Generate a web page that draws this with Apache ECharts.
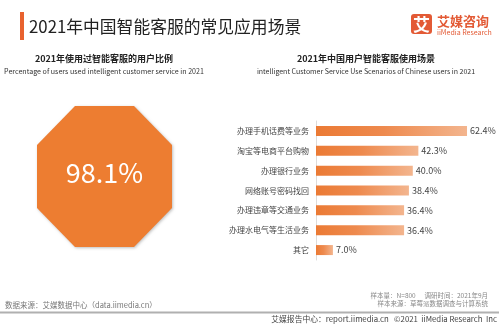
<!DOCTYPE html>
<html>
<head>
<meta charset="utf-8">
<script src="https://cdn.jsdelivr.net/npm/echarts@6/dist/echarts.min.js"></script>
<style>
  html, body { margin: 0; padding: 0; background: #fff; }
  #chart { width: 499px; height: 324px; }
</style>
</head>
<body>
<div id="chart"></div>
<script>
// Share of users who have used intelligent customer service
const usageShare = 98.1;

// Usage scenarios (top to bottom) and their shares, %
const scenarios = [
  '办理手机话费等业务',
  '淘宝等电商平台购物',
  '办理银行业务',
  '网络账号密码找回',
  '办理违章等交通业务',
  '办理水电气等生活业务',
  '其它'
];
const scenarioShares = [62.4, 42.3, 40.0, 38.4, 36.4, 36.4, 7.0];

const FONT = '"Noto Sans CJK SC", "Noto Sans", sans-serif';
const ORANGE = '#ED7D31';

const octagon = 'path://M38,0 L97,0 L135,39 L135,102 L97,141 L38,141 L0,102 L0,39 Z';

const chart = echarts.init(document.getElementById('chart'), null, { renderer: 'canvas' });

chart.setOption({
  backgroundColor: '#fff',
  animation: false,
  textStyle: { fontFamily: FONT },
  grid: [
    { left: 316, top: 121, width: 169.4, height: 139 },
    { left: 37, top: 106, width: 135, height: 141 }
  ],
  xAxis: [
    {
      gridIndex: 0, type: 'value', min: 0, max: 70,
      show: false
    },
    { gridIndex: 1, type: 'value', min: -1, max: 1, show: false }
  ],
  yAxis: [
    {
      gridIndex: 0, type: 'category', inverse: true,
      data: scenarios,
      axisLine: { show: true, lineStyle: { color: '#dcdcdc', width: 1 } },
      axisTick: { show: false },
      axisLabel: { color: '#444', fontSize: 8, margin: 7, fontFamily: FONT }
    },
    { gridIndex: 1, type: 'value', min: -1, max: 1, show: false }
  ],
  series: [
    {
      type: 'bar',
      xAxisIndex: 0, yAxisIndex: 0,
      data: scenarioShares,
      barWidth: 10,
      itemStyle: {
        color: new echarts.graphic.LinearGradient(0, 0, 1, 0, [
          { offset: 0, color: '#EB7A34' },
          { offset: 0.45, color: '#EE8A4E' },
          { offset: 1, color: '#F3B58E' }
        ])
      },
      label: {
        show: true, position: 'right', distance: 3,
        color: '#444', fontSize: 9, fontFamily: FONT,
        formatter: p => p.value.toFixed(1) + '%'
      }
    },
    {
      type: 'scatter',
      xAxisIndex: 1, yAxisIndex: 1,
      symbol: octagon,
      symbolSize: [135, 141],
      symbolKeepAspect: false,
      data: [[0, 0, usageShare]],
      itemStyle: {
        color: ORANGE, opacity: 1,
        shadowBlur: 3, shadowColor: 'rgba(0,0,0,0.25)', shadowOffsetX: 1, shadowOffsetY: 1
      },
      label: {
        show: true, position: 'inside', offset: [0, -4],
        color: '#fff', fontSize: 27, fontFamily: FONT,
        formatter: p => p.value[2].toFixed(1) + '%'
      }
    }
  ],
  graphic: [
    // main heading
    { type: 'rect', shape: { x: 20, y: 12, width: 4, height: 28 }, style: { fill: '#E8622F' } },
    { type: 'text', x: 29, y: 27, style: { text: '2021年中国智能客服的常见应用场景', fill: '#222', font: '16.8px ' + FONT, textVerticalAlign: 'middle' } },
    // brand mark
    { type: 'rect', shape: { x: 411, y: 14, width: 21, height: 20, r: 3 }, style: { fill: '#E35A35' } },
    { type: 'text', x: 421.5, y: 24.5, style: { text: '艾', fill: '#fff', font: 'bold 17px ' + FONT, textAlign: 'center', textVerticalAlign: 'middle' } },
    { type: 'text', x: 437, y: 21, style: { text: '艾媒咨询', fill: '#E35A35', font: 'bold 13px ' + FONT, textVerticalAlign: 'middle' } },
    { type: 'text', x: 437, y: 32, style: { text: 'iiMedia Research', fill: '#E35A35', font: '7px ' + FONT, textVerticalAlign: 'middle' } },
    // panel headings
    { type: 'text', x: 104, y: 59, style: { text: '2021年使用过智能客服的用户比例', fill: '#222', font: 'bold 9px ' + FONT, textAlign: 'center', textVerticalAlign: 'middle' } },
    { type: 'text', x: 104, y: 71, style: { text: 'Percentage of users used intelligent customer service in 2021', fill: '#333', font: '7.1px ' + FONT, textAlign: 'center', textVerticalAlign: 'middle' } },
    { type: 'text', x: 366, y: 59, style: { text: '2021年中国用户智能客服使用场景', fill: '#222', font: 'bold 9px ' + FONT, textAlign: 'center', textVerticalAlign: 'middle' } },
    { type: 'text', x: 366, y: 71, style: { text: 'intelligent Customer Service Use Scenarios of Chinese users in 2021', fill: '#333', font: '7px ' + FONT, textAlign: 'center', textVerticalAlign: 'middle' } },
    // footer
    { type: 'text', x: 5, y: 305, style: { text: '数据来源：艾媒数据中心（data.iimedia.cn）', fill: '#777', font: '7.5px ' + FONT, textVerticalAlign: 'middle' } },
    { type: 'text', x: 488, y: 296, style: { text: '样本量：N=800      调研时间：2021年9月', fill: '#888', font: '6.5px ' + FONT, textAlign: 'right', textVerticalAlign: 'middle' } },
    { type: 'text', x: 488, y: 304, style: { text: '样本来源：草莓派数据调查与计算系统', fill: '#888', font: '6.5px ' + FONT, textAlign: 'right', textVerticalAlign: 'middle' } },
    { type: 'rect', shape: { x: 0, y: 311.5, width: 499, height: 2 }, style: { fill: '#b0b0b0' } },
    { type: 'text', x: 497, y: 319.5, style: { text: '艾媒报告中心：report.iimedia.cn   ©2021  iiMedia Research  Inc', fill: '#444', font: '7.8px ' + FONT, textAlign: 'right', textVerticalAlign: 'middle' } }
  ]
});
</script>
</body>
</html>
